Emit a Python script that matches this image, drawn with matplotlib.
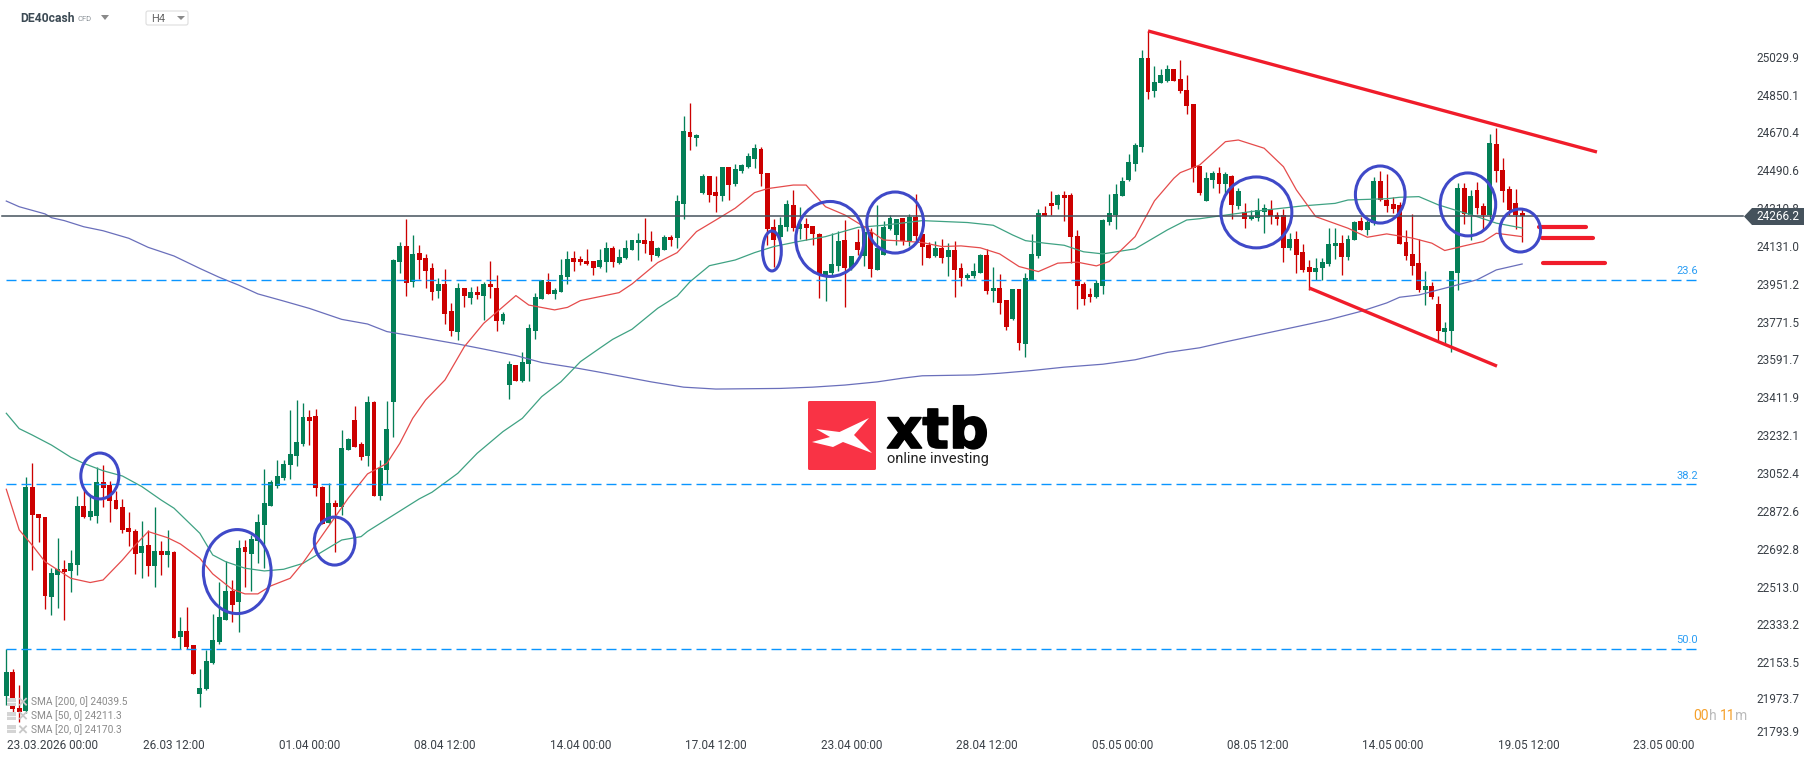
import matplotlib
matplotlib.use('Agg')
import matplotlib.pyplot as plt
import matplotlib.patheffects as pe
from matplotlib.patches import Ellipse, Polygon, Rectangle, FancyBboxPatch

plt.rcParams['font.family'] = ['Roboto', 'DejaVu Sans']

#%% data
opens = [21990,22101,21930,21919,22981,22853,22838,22458,22563,22591,22582,22610,22891,22838,22843,23005,22990,22919,22886,22786,
         22772,22667,22705,22606,22677,22658,22672,22269,22297,22231,21998,22022,22145,22245,22349,22487,22435,22696,22663,22724,
         22800,22891,22986,23024,23085,23128,23185,23313,23318,22981,22810,22905,22886,23157,23299,23185,23128,23385,22938,23062,
         23385,24050,24126,23955,24092,24069,24021,23912,23945,23817,23717,23926,23879,23907,23888,23945,23926,23769,23465,23560,
         23484,23565,23722,23874,23955,23898,23907,23978,24069,24064,24054,24054,24026,24050,24116,24045,24069,24107,24140,24154,
         24149,24078,24107,24168,24164,24325,24667,24639,24377,24458,24382,24363,24501,24420,24482,24501,24539,24586,24472,24216,
         24168,24216,24320,24206,24230,24221,24183,23978,23997,24031,24154,24021,24145,24078,24192,24012,24083,24206,24178,24259,
         24150,24264,24183,24131,24079,24117,24074,24107,24022,23974,23984,23998,24083,23912,23927,23870,23779,23922,23661,23965,
         24079,24283,24330,24321,24368,24368,24174,23946,23898,23884,23936,24240,24273,24364,24440,24515,24596,25019,24862,24900,
         24909,24966,24919,24867,24800,24506,24339,24439,24472,24420,24458,24316,24287,24254,24259,24287,24301,24273,24273,24116,
         24159,24097,24026,24002,24021,24040,24126,24140,24073,24154,24244,24202,24235,24434,24344,24325,24320,24145,24088,24045,
         23917,23936,23851,23718,23722,23998,24402,24273,24392,24316,24273,24611,24487,24397,24330,24283]
highs = [22210,22115,22041,23027,23093,22853,22838,22595,22739,22634,22682,22938,22967,22943,23076,23085,23009,22962,22924,22862,
         22781,22819,22777,22886,22724,22777,22677,22363,22411,22231,22117,22207,22378,22530,22629,22539,22729,22729,22753,22853,
         23066,23014,23109,23109,23347,23394,23380,23347,23351,22986,23000,22919,23252,23214,23366,23195,23413,23389,23109,23389,
         24062,24145,24254,24178,24130,24088,24045,23974,24016,23855,23950,23926,23931,23936,23955,24054,23988,23812,23579,23560,
         23622,23755,23902,23964,23997,23926,24064,24102,24102,24078,24111,24054,24111,24143,24126,24111,24154,24154,24187,24259,
         24197,24121,24178,24178,24368,24743,24805,24658,24468,24458,24458,24501,24501,24515,24515,24567,24610,24596,24472,24254,
         24263,24344,24392,24311,24259,24221,24187,24007,24187,24197,24249,24078,24206,24211,24211,24320,24244,24273,24254,24259,
         24278,24373,24183,24145,24150,24159,24140,24150,24045,23998,24045,24088,24112,24026,23993,23870,23922,23922,23998,24183,
         24302,24316,24387,24373,24387,24378,24202,23955,23927,23965,24254,24373,24421,24454,24563,24615,25057,25147,24981,24966,
         24985,24966,25009,24938,24800,24506,24477,24482,24501,24477,24463,24401,24330,24297,24354,24325,24344,24287,24301,24187,
         24197,24135,24059,24069,24069,24211,24211,24178,24178,24244,24263,24249,24453,24482,24468,24358,24335,24202,24278,24159,
         24007,23955,23889,23765,24007,24425,24425,24392,24430,24330,24658,24687,24544,24411,24397,24302]
lows = [21946,21909,21866,21906,22587,22721,22401,22373,22406,22349,22482,22563,22834,22824,22810,22886,22815,22876,22762,22701,
        22568,22549,22558,22506,22563,22603,22264,22210,22210,22093,21936,22017,22140,22235,22349,22340,22292,22506,22487,22620,
        22596,22891,22976,23014,23019,23081,23176,23180,22938,22805,22810,22674,22848,23157,23171,23109,23081,22938,22919,22995,
        23218,23997,23888,23931,23969,23926,23869,23879,23755,23698,23679,23836,23850,23874,23774,23879,23722,23755,23399,23484,
        23480,23484,23684,23874,23898,23874,23907,23945,24007,24035,24035,23988,24021,24002,24026,24040,24064,24107,24059,24092,
        24054,24073,24107,24126,24116,24254,24582,24601,24373,24335,24287,24339,24344,24411,24472,24496,24496,24411,24130,24026,
        24130,24197,24197,24159,24154,24130,23879,23864,23988,24007,23836,24012,24083,24031,23978,24012,24083,24202,24130,24131,
        24126,24150,24036,24069,24074,24045,23984,23884,23936,23965,23974,23998,23898,23860,23803,23727,23775,23632,23599,23965,
        24069,24269,24273,24302,24245,24045,23827,23846,23860,23879,23898,24226,24207,24364,24435,24482,24572,24824,24833,24900,
        24905,24909,24852,24753,24430,24368,24339,24401,24377,24373,24254,24301,24211,24249,24244,24187,24230,24225,24050,24107,
        23997,24002,23917,23964,23964,24031,24064,23988,24059,24154,24202,24178,24225,24339,24287,24282,24135,24059,23988,23907,
        23846,23874,23680,23661,23623,23917,24231,24155,24278,24202,24254,24430,24335,24273,24207,24145]
closes = [22101,21927,21911,22981,22849,22834,22463,22572,22591,22577,22620,22891,22838,22867,23005,22976,22914,22876,22777,22767,
          22663,22701,22606,22677,22658,22677,22264,22297,22221,22093,22026,22155,22254,22363,22487,22420,22691,22672,22734,22815,
          22905,23005,23033,23090,23138,23195,23313,23294,22976,22805,22905,22886,23166,23209,23171,23123,23385,22938,23071,23256,
          24059,24126,23950,24088,24059,24007,23907,23945,23803,23722,23926,23888,23907,23893,23945,23931,23769,23803,23565,23484,
          23575,23736,23883,23964,23898,23917,23988,24064,24050,24050,24040,24021,24059,24116,24050,24073,24116,24154,24154,24135,
          24083,24116,24168,24154,24339,24672,24643,24653,24458,24368,24363,24501,24415,24491,24510,24553,24591,24468,24206,24154,
          24225,24325,24211,24230,24211,24183,23993,24007,24040,24149,24021,24078,24107,24192,24016,24116,24216,24259,24254,24150,
          24264,24174,24121,24069,24117,24069,24107,24012,23974,23988,24007,24083,23912,23927,23855,23741,23922,23665,23974,24088,
          24283,24269,24316,24368,24354,24169,23936,23874,23884,23950,24250,24283,24373,24435,24525,24605,25019,24857,24905,24938,
          24966,24909,24862,24791,24496,24377,24449,24472,24420,24468,24320,24387,24254,24268,24297,24306,24268,24254,24116,24159,
          24083,24012,24002,24021,24050,24135,24140,24073,24159,24240,24202,24240,24434,24344,24316,24301,24135,24078,24031,23917,
          23936,23884,23722,23737,24007,24402,24278,24364,24307,24273,24615,24482,24387,24297,24273,24266]

sma200_x = [0,2,6,7,9,12,15,19,22,26,30,33,36,39,43,47,52,56,59,63,67,70,74,79,83,88,92,100,105,110,120,125,130,135,
            139,142,150,154,159,164,170,175,180,185,189,202,205,210,214,216,219,223,228,231,235]
sma200 = [24339,24312,24278,24260,24246,24217,24198,24162,24119,24078,24019,23977,23940,23898,23864,23829,23777,23755,23719,23698,
          23676,23660,23636,23605,23572,23548,23526,23480,23455,23446,23449,23455,23465,23480,
          23498,23509,23513,23521,23534,23550,23564,23585,23620,23642,23670,23755,23775,23815,23855,23882,23893,23925,23965,24012,24040]

sma50_x = [0,2,4,7,10,12,15,18,21,24,26,30,32,34,37,40,43,46,47,52,55,56,64,66,70,73,77,80,83,86,89,92,94,97,101,104,106,109,113,116,119,
           123,127,132,136,139,142,149,153,156,158,161,164,167,170,175,180,183,185,188,193,201,206,208,214,216,219,222,224,228,231,235]
sma50 = [23331,23258,23228,23180,23122,23093,23058,23033,22983,22919,22880,22761,22658,22626,22595,22582,22590,22618,22637,22729,22745,22770,
         22924,22956,23046,23141,23244,23307,23410,23481,23576,23640,23682,23730,23830,23888,23956,24032,24059,24094,24123,
         24148,24170,24214,24224,24235,24246,24237,24224,24178,24151,24139,24129,24098,24088,24112,24202,24249,24255,24268,24289,24316,24328,24344,24350,24357,24360,24321,24302,24265,24234,24211]

sma20_x = [0,2,4,6,10,13,15,18,20,22,25,27,30,32,35,37,39,41,44,46,53,56,59,61,63,65,68,71,74,77,79,81,85,87,89,92,95,97,101,104,107,110,113,116,118,
           122,124,127,130,133,136,139,142,145,148,151,154,157,160,163,166,169,171,175,178,181,182,185,189,191,195,198,200,203,208,211,214,218,221,223,226,229,231,234,235]
sma20 = [22970,22777,22705,22626,22547,22527,22539,22634,22705,22769,22740,22710,22642,22568,22495,22473,22473,22511,22547,22621,
         22927,23043,23093,23188,23307,23394,23489,23647,23758,23837,23890,23845,23822,23834,23866,23885,23904,23945,24047,24094,24194,24249,24305,24379,24398,
         24415,24415,24312,24273,24217,24154,24149,24142,24123,24126,24117,24088,24028,24004,24044,24049,24031,24052,24170,24340,24447,24474,24510,24621,24629,
         24590,24502,24392,24265,24210,24167,24183,24163,24139,24104,24126,24147,24186,24174,24170]

fib_levels = [23962, 22994, 22210]
fib_labels = ['23.6', '38.2', '50.0']
last_price = 24266.2

# annotations drawn by hand on the original
trend_i = [[177, 246.6], [202, 231.1]]
trend_p = [[25147, 24572], [23926, 23555]]
target_i = [[237.6, 244.9], [238.1, 246.0], [238.2, 247.8]]
target_p = [24214, 24163, 24045]
circle_i = [14.5, 35.8, 50.9, 118.7, 127.7, 137.8, 193.8, 213.0, 226.6, 234.7]
circle_p = [23033, 22579, 22724, 24102, 24159, 24237, 24285, 24370, 24323, 24199]
circle_w = [5.9, 10.5, 6.3, 2.9, 10.6, 8.8, 11.0, 7.7, 8.6, 6.3]
circle_h = [218, 399, 228, 190, 356, 290, 337, 271, 299, 204]

ytick_labels = ['25029.9','24850.1','24670.4','24490.6','24310.8','24131.0','23951.2','23771.5','23591.7','23411.9',
                '23232.1','23052.4','22872.6','22692.8','22513.0','22333.2','22153.5','21973.7','21793.9']
ytick_pos = [25024.9,24845.1,24665.4,24485.6,24305.8,24126.0,23946.2,23766.5,23586.7,23406.9,
             23227.1,23047.4,22867.6,22687.8,22508.0,22328.2,22148.5,21978.0,21822.0]
xtick_pos = [7.2,26,47,68,89,110,131,152,173,194,215,236,257]
xtick_labels = ['23.03.2026 00:00','26.03 12:00','01.04 00:00','08.04 12:00','14.04 00:00','17.04 12:00','23.04 00:00',
                '28.04 12:00','05.05 00:00','08.05 12:00','14.05 00:00','19.05 12:00','23.05 00:00']
legend_labels = ['SMA [200, 0] 24039.5', 'SMA [50, 0] 24211.3', 'SMA [20, 0] 24170.3']

GREEN = '#047f57'
RED = '#cc0000'
BLUE = '#3f49c8'
ANNOT = '#f01c2a'
FIB = '#0a95ff'
TXT = '#3a4047'

#%% main chart
fig = plt.figure(figsize=(18.16, 7.61), dpi=100, facecolor='white')
ax = fig.add_axes([0, 26/761, 1755/1816, 735/761])
ax.set_xlim(-0.977, 271.1)
ax.set_ylim(21802.75, 25294)
for s in ax.spines.values():
    s.set_visible(False)

for i in range(len(opens)):
    col = GREEN if closes[i] >= opens[i] else RED
    ax.vlines(i, lows[i], highs[i], color=col, lw=0.95, zorder=2)
    ax.bar(i, abs(closes[i]-opens[i]), bottom=min(opens[i], closes[i]), width=0.76, color=col, lw=0, zorder=3)

ax.plot(sma200_x, sma200, color='#6a6fbb', lw=0.9, zorder=4)
ax.plot(sma50_x, sma50, color='#3fa283', lw=0.9, zorder=4)
ax.plot(sma20_x, sma20, color='#e54b4b', lw=0.9, zorder=4)

for lev in fib_levels:
    ax.plot([-0.05, 262.6], [lev, lev], color=FIB, lw=1.0, dashes=(7.2, 3.6), zorder=4)
ax.plot([-0.7, 269.3], [last_price, last_price], color='#45525c', lw=1.1, zorder=4)

for xs, ys in zip(trend_i, trend_p):
    ax.plot(xs, ys, color=ANNOT, lw=2.4, solid_capstyle='butt', zorder=6)
for xs, y in zip(target_i, target_p):
    ax.plot(xs, [y, y], color=ANNOT, lw=3.0, solid_capstyle='round', zorder=6)
for cx, cy, w, h in zip(circle_i, circle_p, circle_w, circle_h):
    ax.add_patch(Ellipse((cx, cy), w, h, fill=False, ec=BLUE, lw=2.2, zorder=7))

ax.yaxis.tick_right()
ax.set_yticks(ytick_pos, ytick_labels)
ax.set_xticks(xtick_pos, xtick_labels)
ax.tick_params(axis='both', length=0, labelsize=8.5, labelcolor=TXT)
ax.tick_params(axis='y', pad=0.8)
ax.tick_params(axis='x', pad=3)

#%% interface parts, in screen pixels
ui = fig.add_axes([0, 0, 1, 1], zorder=5)
ui.set_xlim(0, 1816)
ui.set_ylim(761, 0)
ui.axis('off')
ui.patch.set_alpha(0)

ui.add_patch(Polygon([(1744, 216.5), (1752, 208), (1804, 208), (1804, 225), (1752, 225)], fc='#45525c', ec='none'))
ui.text(1778, 217, '24266.2', color='white', fontsize=8.5, ha='center', va='center')

for i in range(3):
    y = 701.7 + 13.8*i
    ui.add_patch(Rectangle((6.7, y-4), 9.3, 8, fc='#d4d4d4', ec='none', zorder=1))
    ui.plot([6.7, 16], [y, y], color='white', lw=0.6, zorder=2)
    ui.plot([20, 26], [y-3, y+3], color='#c8c8c8', lw=1.3, zorder=2)
    ui.plot([20, 26], [y+3, y-3], color='#c8c8c8', lw=1.3, zorder=2)
    ui.text(31, y, legend_labels[i], color='#8a8a8a', fontsize=7.3, va='center', zorder=3)

for lev_y, lab in zip([270.7, 476, 640], fib_labels):
    ui.text(1687, lev_y, lab, color='#2a9df4', fontsize=8, ha='center', va='center')

# header
ui.text(20, 18.5, 'DE40cash', color='#3c4a54', fontsize=8.7, fontweight='bold', va='center')
ui.text(78, 19, 'CFD', color='#8b9298', fontsize=5.5, va='center')
ui.add_patch(Polygon([(101, 15), (109, 15), (105, 20)], fc='#8a8a8a', ec='none'))
ui.add_patch(FancyBboxPatch((146, 11), 42, 14, boxstyle='round,pad=0,rounding_size=2', fc='white', ec='#dddddd', lw=0.8))
ui.text(151, 19, 'H4', color='#666666', fontsize=8, va='center')
ui.add_patch(Polygon([(177, 16), (185, 16), (181, 20)], fc='#8a8a8a', ec='none'))

# logo
ui.add_patch(FancyBboxPatch((808, 401), 68, 69, boxstyle='round,pad=0,rounding_size=1.5', fc='#f93345', ec='none'))
ui.add_patch(Polygon([(816, 429), (839.5, 432), (869, 418), (854, 435), (872, 453), (843, 442), (833, 447), (812, 442), (830, 437)],
                     fc='white', ec='none'))
ui.text(937.5, 448, 'xtb', color='black', fontsize=40, fontweight='bold', family='DejaVu Sans', ha='center', va='baseline',
        path_effects=[pe.withStroke(linewidth=1.2, foreground='black')])
ui.text(937.5, 459, 'online investing', color='#222222', fontsize=10.5, ha='center', va='center')

# countdown
for x, s, c in [(1693, '00', '#f5a02a'), (1709, 'h', '#bbbbbb'), (1720, '11', '#f5a02a'), (1735, 'm', '#bbbbbb')]:
    ui.text(x, 716, s, color=c, fontsize=10, va='center')

fig.savefig('out.png', dpi=100)
